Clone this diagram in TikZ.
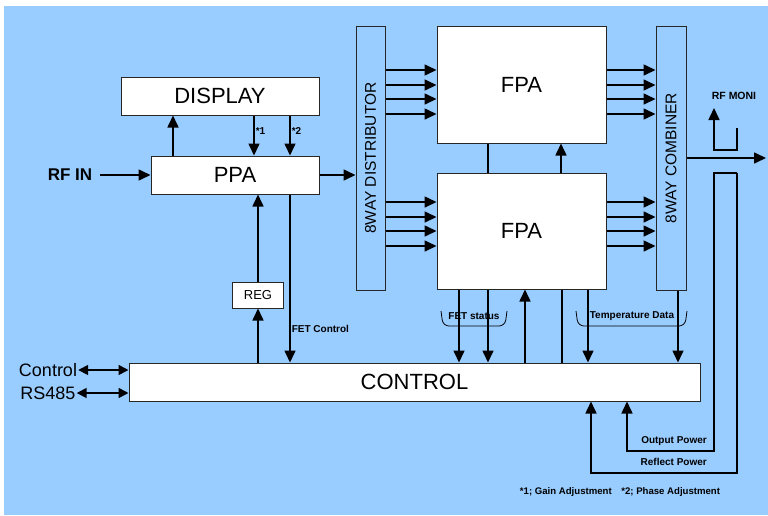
\documentclass[tikz,border=0pt]{standalone}
\usepackage{fontspec}
\setmainfont{Liberation Sans}
\usetikzlibrary{arrows.meta, positioning}
\definecolor{panelblue}{RGB}{153,204,255}

\begin{document}
\begin{tikzpicture}[x=1pt, y=-1pt,
    blk/.style={draw=black!85, fill=white, line width=1pt, inner sep=0pt, font=\fontsize{22}{24}\selectfont},
    bar/.style={draw=black!85, fill=panelblue, line width=1pt, inner sep=0pt, font=\fontsize{15.5}{17}\selectfont},
    sig/.style={line width=1.6pt},
    arr/.style={sig, -{Triangle[length=12pt, width=11pt]}},
    darr/.style={sig, {Triangle[length=10pt, width=10pt]}-{Triangle[length=10pt, width=10pt]}},
    tag/.style={font=\bfseries\fontsize{10}{12}\selectfont, inner sep=1pt},
    side/.style={font=\fontsize{18}{20}\selectfont, inner sep=1pt}]

    % Panel
    \useasboundingbox (0,0) rectangle (768,515);
    \fill[panelblue] (4,6) rectangle (768,515);

    % Blocks
    \node[blk, minimum width=198, minimum height=38] (display) at (220,96) {DISPLAY};
    \node[blk, minimum width=168, minimum height=38] (ppa) at (235,175) {PPA};
    \node[bar, minimum width=29, minimum height=264] (dist) at (370.5,158) {\rotatebox{90}{8WAY DISTRIBUTOR}};
    \node[blk, minimum width=169, minimum height=117] (fpaA) at (521.5,84.5) {FPA};
    \node[blk, minimum width=169, minimum height=116] (fpaB) at (521.5,231) {FPA};
    \node[bar, minimum width=30, minimum height=264] (comb) at (671,158) {\rotatebox{90}{8WAY COMBINER}};
    \node[blk, minimum width=51, minimum height=26, font=\fontsize{13}{15}\selectfont] (reg) at (258,295) {REG};
    \node[blk, minimum width=571, minimum height=38] (control) at (414.5,382) {CONTROL};

    % Side labels
    \node[font=\bfseries\fontsize{17}{19}\selectfont, inner sep=1pt] (rfin) at (70,175) {RF IN};
    \node[side] (ctl) at (48,370) {Control};
    \node[side] (bus) at (48,393) {RS485};
    \coordinate (rfout) at (766,158);

    % PPA and display
    \draw[arr] ([xshift=7]rfin.east) -- (ppa.west);
    \draw[arr] (ppa.east) -- (ppa.east -| dist.west);
    \draw[arr] (ppa.north -| 173,0) -- (display.south -| 173,0);
    \draw[arr] (display.south -| 254,0) -- (ppa.north -| 254,0) node[tag, pos=0.4, right] {*1};
    \draw[arr] (display.south -| 290,0) -- (ppa.north -| 290,0) node[tag, pos=0.4, right] {*2};
    \draw[arr] (reg.north) -- (reg.north |- ppa.south);
    \draw[arr] (reg.south |- control.north) -- (reg.south);
    \draw[arr] (ppa.south -| 290,0) -- (control.north -| 290,0) node[tag, pos=0.8, right] {FET Control};

    % Distributor -> FPA -> combiner
    \foreach \y in {70,85,99,114} {
        \draw[arr] (dist.east |- 0,\y) -- (fpaA.west |- 0,\y);
        \draw[arr] (fpaA.east |- 0,\y) -- (comb.west |- 0,\y);
    }
    \foreach \y in {202,217,231,246} {
        \draw[arr] (dist.east |- 0,\y) -- (fpaB.west |- 0,\y);
        \draw[arr] (fpaB.east |- 0,\y) -- (comb.west |- 0,\y);
    }
    \draw[sig] (fpaB.north -| 488,0) -- (fpaA.south -| 488,0);
    \draw[arr] (fpaB.north -| 561,0) -- (fpaA.south -| 561,0);

    % FPA <-> control
    \draw[arr] (fpaB.south -| 459,0) -- (control.north -| 459,0);
    \draw[arr] (fpaB.south -| 488,0) -- (control.north -| 488,0);
    \draw[arr] (control.north -| 525,0) -- (fpaB.south -| 525,0);
    \draw[sig] (fpaB.south -| 562,0) -- (control.north -| 562,0);
    \draw[arr] (fpaB.south -| 588,0) -- (control.north -| 588,0);
    \draw[arr] (comb.south -| 678,0) -- (control.north -| 678,0);

    % Brackets
    \draw[line width=0.8pt, rounded corners=6] (441,311) -- (443,326) -- (505,326) -- (507,311);
    \draw[line width=0.8pt, rounded corners=6] (576,311) -- (578,326) -- (685,326) -- (687,311);
    \node[tag] (fetst) at (474,316) {FET status};
    \node[tag] (temp) at (632,316) {Temperature Data};

    % Serial lines
    \draw[darr] (ctl.east) -- (ctl.east -| control.west);
    \draw[darr] (bus.east) -- (bus.east -| control.west);

    % RF output and monitor
    \draw[arr] (comb.east |- rfout) -- (rfout);
    \draw[arr] (737,128) |- (714,150) -- (714,108);
    \node[tag, font=\bfseries\fontsize{10.5}{12}\selectfont] (moni) at (734,96) {RF MONI};

    % Power feedback
    \draw[arr] (737,173) -- (714,173) -- (714,451) -| (control.south -| 627,0);
    \draw[arr] (737,173) -- (737,473) -| (control.south -| 591,0);
    \node[tag, anchor=east] (outp) at (708,441) {Output Power};
    \node[tag, anchor=east] (refp) at (708,462) {Reflect Power};

    % Notes
    \node[tag, font=\bfseries\fontsize{9.6}{11}\selectfont] (note) at (620,492) {*1; Gain Adjustment\quad *2; Phase Adjustment};

\end{tikzpicture}
\end{document}
